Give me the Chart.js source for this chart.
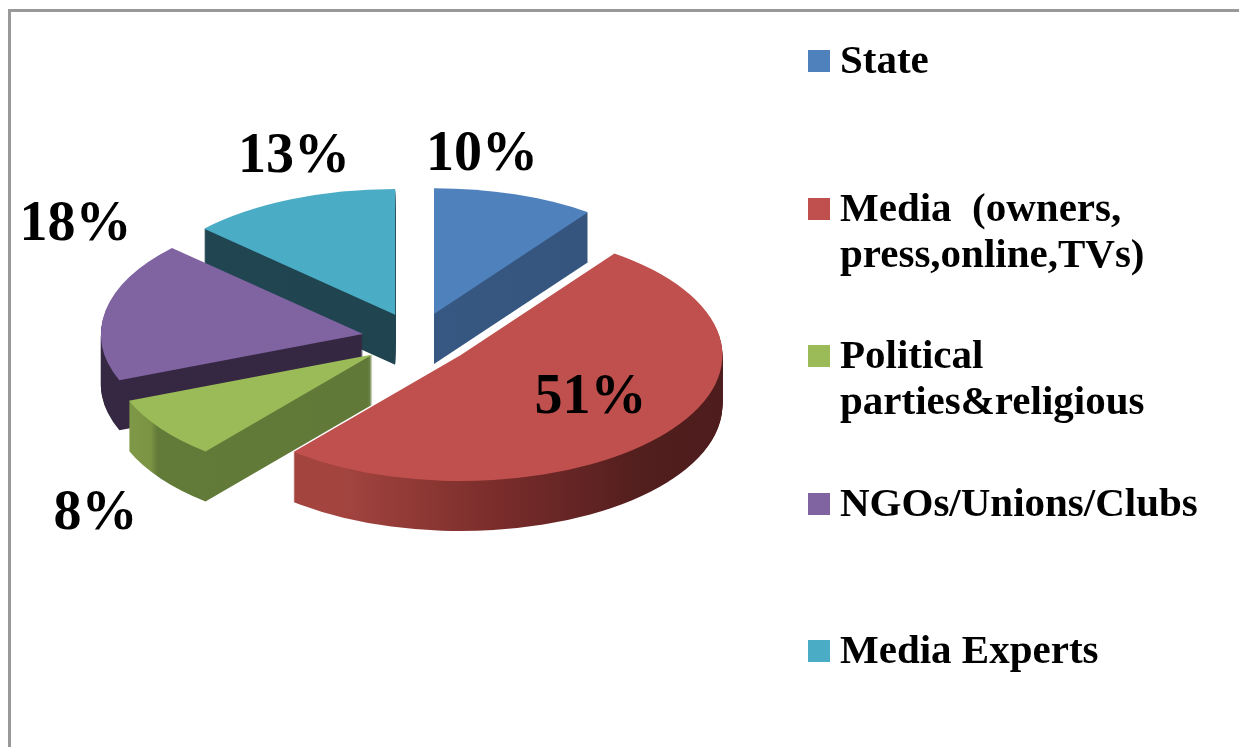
<!DOCTYPE html>
<html>
<head>
<meta charset="utf-8">
<script src="https://cdn.jsdelivr.net/npm/chart.js@4.4.1/dist/chart.umd.min.js"></script>
<style>
  html, body { margin: 0; padding: 0; background: #fff; }
  #wrap { position: relative; width: 1239px; height: 747px; overflow: hidden; }
  #frame { position: absolute; left: 8px; top: 9px; right: -10px; bottom: -10px;
           border-top: 3px solid #999; border-left: 3px solid #999; }
  #pie { position: absolute; left: 0; top: 0; }
  #legend { position: absolute; left: 808px; top: 0; width: 431px;
            font: bold 41px 'Liberation Serif', serif; color: #000; }
  .item { position: absolute; left: 0; width: 420px; }
  .sw { position: absolute; left: 0; top: 14px; width: 22px; height: 22px; }
  .tx { margin-left: 32px; line-height: 46px; white-space: pre-wrap; width: 390px; }
</style>
</head>
<body>
<div id="wrap">
  <div id="frame"></div>
  <canvas id="pie" width="1239" height="747"></canvas>
  <div id="legend"></div>
</div>
<script>
var categories = ['State', 'Media  (owners, press,online,TVs)', 'Political parties&religious', 'NGOs/Unions/Clubs', 'Media Experts'];
var shares = [10, 51, 8, 18, 13];
var topColors = ['#4f81bd', '#c0504d', '#9bbb59', '#8064a2', '#4bacc6'];

// look of the 3d pie
var TILT = 0.48, DEPTH = 50, EXPLODE = 55;
var SIDE_X0 = 90, SIDE_X1 = 740;
var sideStops = [
  [[90, '#3a5d89'], [740, '#33527a']],
  [[300, '#a3443f'], [450, '#7a2d2b'], [600, '#521e1e'], [740, '#4a1b1b']],
  [[110, '#8aa64f'], [195, '#7b9444'], [202, '#637b39'], [740, '#5e7536']],
  [[100, '#6c5588'], [116, '#362843'], [740, '#33263f']],
  [[90, '#214753'], [740, '#1e424d']]
];
var labelNudge = [[-33, -24], [-77, -19], [-65, 101], [-30, -70], [3, -27]];

function sideFill(ctx, i) {
  var g = ctx.createLinearGradient(SIDE_X0, 0, SIDE_X1, 0);
  sideStops[i].forEach(function(s) {
    var t = Math.min(1, Math.max(0, (s[0] - SIDE_X0) / (SIDE_X1 - SIDE_X0)));
    g.addColorStop(t, s[1]);
  });
  return g;
}

function midAngle(arc) {
  return (arc.startAngle + arc.endAngle) / 2;
}

var pie3d = {
  id: 'pie3d',
  beforeDatasetsDraw: function(chart) {
    var ctx = chart.ctx;
    var arcs = chart.getDatasetMeta(0).data;
    var cy = arcs[0].y;
    // paint from the back slice to the front one
    var order = arcs.map(function(a, i) { return i; }).sort(function(a, b) {
      return Math.sin(midAngle(arcs[a])) - Math.sin(midAngle(arcs[b]));
    });
    ctx.save();
    ctx.translate(0, cy);
    ctx.scale(1, TILT);
    ctx.translate(0, -cy);
    order.forEach(function(i) {
      var arc = arcs[i];
      var mid = midAngle(arc);
      var dx = Math.cos(mid) * EXPLODE, dy = Math.sin(mid) * EXPLODE;
      var orig = arc.options;
      arc.options = Object.assign({}, orig, { backgroundColor: sideFill(ctx, i) });
      for (var k = DEPTH; k >= 1; k--) {
        ctx.save();
        ctx.translate(dx, dy + k / TILT);
        arc.draw(ctx);
        ctx.restore();
      }
      arc.options = orig;
      ctx.save();
      ctx.translate(dx, dy);
      arc.draw(ctx);
      ctx.restore();
    });
    ctx.restore();
    return false;
  },
  afterDraw: function(chart) {
    var ctx = chart.ctx;
    var arcs = chart.getDatasetMeta(0).data;
    var total = shares.reduce(function(a, b) { return a + b; }, 0);
    ctx.save();
    ctx.font = 'bold 56px "Liberation Serif"';
    ctx.fillStyle = '#000';
    ctx.textAlign = 'center';
    ctx.textBaseline = 'alphabetic';
    arcs.forEach(function(arc, i) {
      var mid = midAngle(arc);
      var r = arc.outerRadius + EXPLODE;
      var x = arc.x + Math.cos(mid) * r + labelNudge[i][0];
      var y = arc.y + Math.sin(mid) * r * TILT + labelNudge[i][1];
      ctx.fillText(Math.round(shares[i] / total * 100) + '%', x, y);
    });
    ctx.restore();
  }
};

new Chart(document.getElementById('pie').getContext('2d'), {
  type: 'pie',
  data: {
    labels: categories,
    datasets: [{ data: shares, backgroundColor: topColors, borderWidth: 0, offset: 0 }]
  },
  options: {
    responsive: false,
    animation: false,
    radius: 262,
    layout: { padding: { left: 0, top: 0, right: 405, bottom: 69 } },
    plugins: { legend: { display: false }, tooltip: { enabled: false } }
  },
  plugins: [pie3d]
});

var legend = document.getElementById('legend');
categories.forEach(function(name, i) {
  var item = document.createElement('div');
  item.className = 'item';
  item.style.top = (36 + i * 147.5) + 'px';
  var sw = document.createElement('div');
  sw.className = 'sw';
  sw.style.background = topColors[i];
  var tx = document.createElement('div');
  tx.className = 'tx';
  tx.textContent = name;
  item.appendChild(sw);
  item.appendChild(tx);
  legend.appendChild(item);
});
</script>
</body>
</html>
